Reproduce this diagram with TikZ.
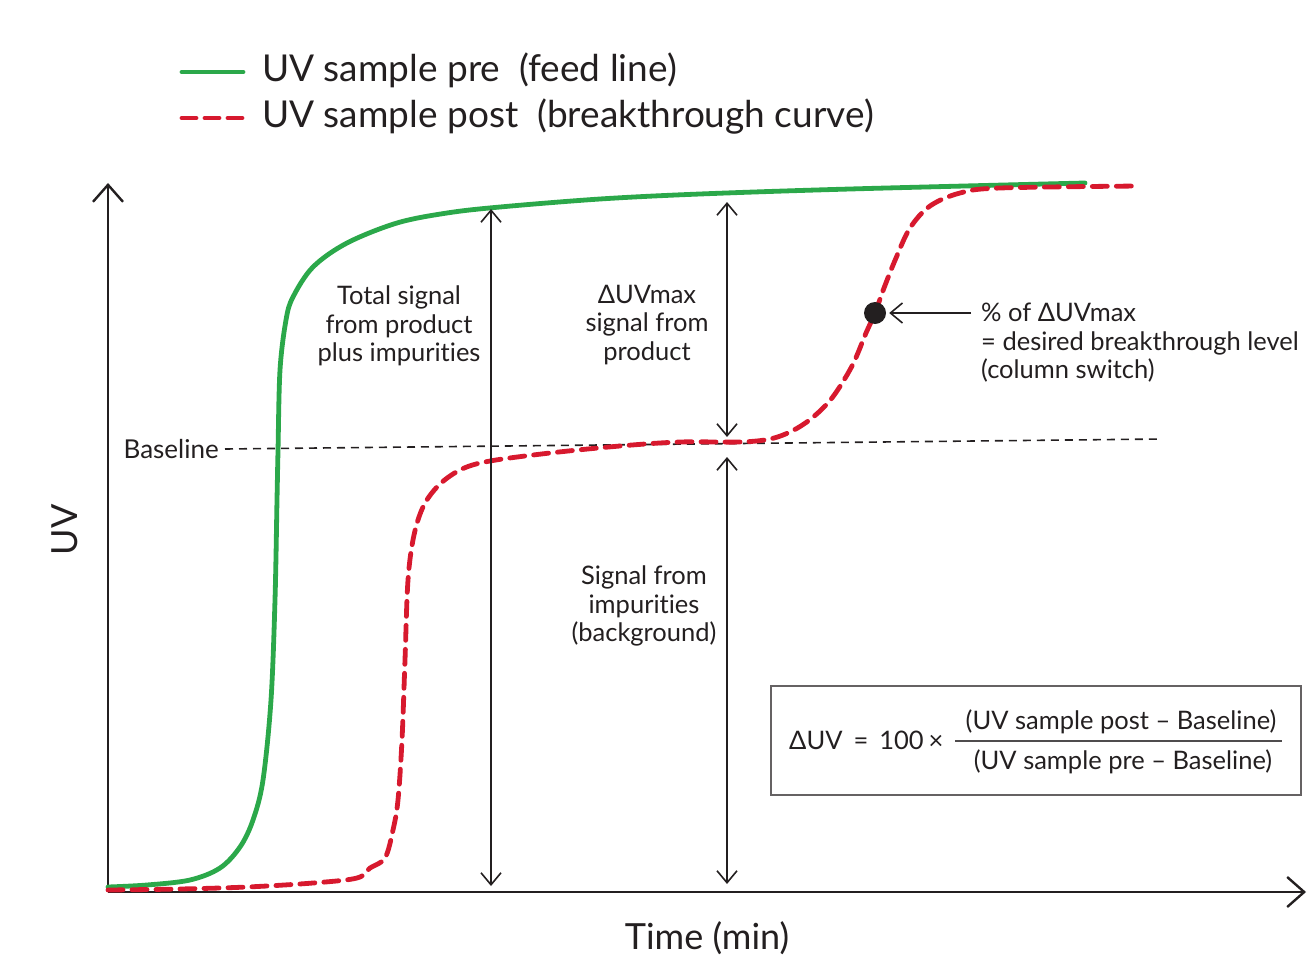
\documentclass[tikz,border=0pt]{standalone}
\usepackage{fontspec}
\setmainfont{Lato}[Ligatures={NoCommon,NoRare}]
\usetikzlibrary{arrows.meta}
\definecolor{uvgreen}{HTML}{2BA84A}
\definecolor{uvred}{HTML}{D7192E}
\definecolor{ink}{HTML}{231F20}
\begin{document}
\begin{tikzpicture}[x=1pt,y=-1pt,
  axis/.style={line width=2.6pt, draw=ink, -{Straight Barb[length=17pt,width=30pt,line width=2.4pt]}},
  dimarrow/.style={line width=1.6pt, draw=ink, {Straight Barb[length=12pt,width=20pt,line width=1.6pt]}-{Straight Barb[length=12pt,width=20pt,line width=1.6pt]}},
  ptr/.style={line width=1.6pt, draw=ink, -{Straight Barb[length=12pt,width=20pt,line width=1.6pt]}},
  pre/.style={line width=4.8pt, draw=uvgreen, line cap=round},
  post/.style={line width=4.8pt, draw=uvred, line cap=round, dash pattern=on 15pt off 9pt},
  basel/.style={line width=1.6pt, draw=ink, dash pattern=on 8pt off 6pt},
  lbl/.style={font=\fontsize{25.5}{28.5}\selectfont, text=ink, align=center, inner sep=0pt},
  leg/.style={font=\fontsize{37}{40}\selectfont, text=ink, inner sep=0pt, anchor=west},
  ax/.style={font=\fontsize{36}{38}\selectfont, text=ink, inner sep=0pt},
  fml/.style={font=\fontsize{25.5}{28}\selectfont, text=ink, inner sep=0pt},
]
\useasboundingbox (0,0) rectangle (1308,960);

% legend
\coordinate (lg1a) at (182,72); \coordinate (lg1b) at (243,72);
\coordinate (lg2a) at (182,118); \coordinate (lg2b) at (243,118);
\draw[pre] (lg1a) -- (lg1b);
\draw[line width=4.8pt, draw=uvred, line cap=round, dash pattern=on 14pt off 9pt] (lg2a) -- (lg2b);
\node[leg] (legpre) at (262,70) {UV sample pre\ \ (feed line)};
\node[leg] (legpost) at (262,117) {UV sample post\ \ (breakthrough curve)};

% axes
\coordinate (O) at (108,892);
\coordinate (ytop) at (108,183);
\coordinate (xend) at (1306,892);
\draw[axis] (O) -- (ytop);
\draw[axis] (O) -- (xend);
\node[ax, rotate=90] (ylab) at (65,530) {UV};
\node[ax] (xlab) at (707,938) {Time (min)};

% baseline
\node[font=\fontsize{26}{28}\selectfont, text=ink, inner sep=0pt, anchor=east] (bl) at (219,449) {Baseline};
\coordinate (blend) at (1162,439);
\draw[basel] ([xshift=6pt]bl.east) -- (blend);

% green curve
\draw[pre] plot[smooth, tension=0.55] coordinates {
 (108,887) (147,885) (190,880) (220,868) (240,847) (253,820) (263,780)
 (271,700) (275,600) (277,500) (278,451) (280,370) (286,320) (293,297)
 (313,267) (347,243) (397,223) (447,213) (500,207) (600,199) (700,194)
 (850,189) (1085,183)};

% red curve
\draw[post] plot[smooth, tension=0.55] coordinates {
 (108,890) (180,889) (247,887) (313,883) (357,878) (370,868) (385,858)
 (393,830) (398,800) (402,740) (405,660) (408,580) (414,535) (424,505)
 (440,484) (462,469) (490,461) (550,453) (620,446) (680,442) (740,442)
 (770,439) (792,431) (812,418) (832,398) (852,366) (866,333) (875,313)
 (884,288) (896,258) (910,228) (930,206) (960,193) (1000,188) (1140,186)};

% dimension arrows
\coordinate (a1t) at (491,209); \coordinate (a1b) at (491,886);
\coordinate (a2t) at (727,202); \coordinate (a2b) at (727,437);
\coordinate (a3t) at (727,457); \coordinate (a3b) at (727,884);
\draw[dimarrow] (a1t) -- (a1b);
\draw[dimarrow] (a2t) -- (a2b);
\draw[dimarrow] (a3t) -- (a3b);

\node[lbl] (ltotal) at (399,326) {Total signal\\from product\\plus impurities};
\node[lbl] (ldelta) at (647,325) {ΔUVmax\\signal from\\product};
\node[lbl] (limp) at (644,606) {Signal from\\impurities\\(background)};

% breakthrough point
\node[circle, fill=ink, inner sep=0pt, minimum size=22pt] (dot) at (875,313) {};
\coordinate (ptrs) at (971,313);
\draw[ptr] (ptrs) -- ([xshift=3pt]dot.east);
\node[lbl, align=left, anchor=west] (lpct) at (981,343) {\% of ΔUVmax\\= desired breakthrough level\\(column switch)};

% formula box
\node[draw=ink!70, line width=1.3pt, minimum width=530pt, minimum height=109pt, inner sep=0pt] (fbox) at (1036,740.5) {};
\node[fml, anchor=base west] (flhs) at (789,749) {ΔUV\hspace{11pt}=\hspace{11pt}100\hspace{5pt}×};
\coordinate (fl1) at (955,741); \coordinate (fl2) at (1282,741);
\draw[line width=1.3pt, draw=ink!80] (fl1) -- (fl2);
\node[fml, anchor=base] (fnum) at (1121,729) {(UV sample post – Baseline)};
\node[fml, anchor=base] (fden) at (1123,769) {(UV sample pre – Baseline)};
\end{tikzpicture}
\end{document}
